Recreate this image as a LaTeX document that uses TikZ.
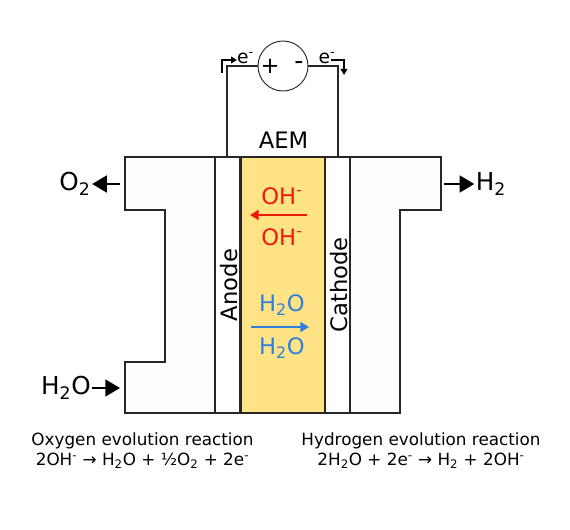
\documentclass[tikz,border=0pt]{standalone}
\usepackage{fontspec}
\usepackage{xcolor}
\usepackage{tikz}
\usetikzlibrary{arrows.meta}
\setmainfont{DejaVu Sans}
\definecolor{redColor}{HTML}{F01A0A}
\definecolor{blueColor}{HTML}{2F7FE0}
\definecolor{aemColor}{HTML}{FFE384}
\definecolor{blockColor}{HTML}{FDFDFD}
\tikzset{
    bigText/.style={font=\fontsize{17}{20}\selectfont, inner sep=0pt},
    gasText/.style={font=\fontsize{18.5}{22}\selectfont, inner sep=1pt},
    reactionText/.style={font=\fontsize{12.6}{15.3}\selectfont, align=center, inner sep=0pt},
    smallText/.style={font=\fontsize{14}{16}\selectfont, inner sep=0pt},
    wall/.style={draw=black!85, line width=0.9pt},
    gasArrow/.style={-{Triangle[length=11pt,width=12.5pt]}, line width=1.9pt, black},
    ionArrow/.style={-{Triangle[length=6.5pt,width=7.5pt]}, line width=1.5pt},
    electronArrow/.style={-{Triangle[length=4.5pt,width=5pt]}, line width=1.1pt}
}
\begin{document}
\begin{tikzpicture}[x=0.75pt, y=-0.75pt]
    \useasboundingbox (0,0) rectangle (570,530);
    \fill[white] (0,0) rectangle (570,530);
    % flow plates
    \draw[wall, fill=blockColor] (125,157) -- (215,157) -- (215,413) -- (125,413) -- (125,362) -- (165,362) -- (165,210) -- (125,210) -- cycle;
    \draw[wall, fill=blockColor] (350,157) -- (441,157) -- (441,210) -- (400,210) -- (400,413) -- (350,413) -- cycle;
    % electrodes and membrane
    \draw[wall, fill=white] (215,157) rectangle (240,413);
    \draw[wall, fill=white] (325,157) rectangle (350,413);
    \draw[black!85, line width=2pt, fill=aemColor] (241,157) rectangle (325,413);
    \node[rotate=90, bigText] (anode) at (229,285) {Anode};
    \node[rotate=90, bigText] (cathode) at (339,285) {Cathode};
    \node[bigText] (aem) at (283.5,140) {AEM};
    % circuit
    \node[circle, draw=black!85, line width=0.7pt, minimum size=50pt*0.75, inner sep=0pt] (source) at (283,66) {};
    \node[font=\fontsize{17}{20}\selectfont, inner sep=0pt] (plus) at (270,66) {+};
    \node[font=\fontsize{19}{20}\selectfont, inner sep=0pt] (minus) at (299,66) {-};
    \coordinate (anodeTop) at (227,157);
    \coordinate (cathodeTop) at (338,157);
    \draw[line width=1pt, black!85] (source.west) -| (anodeTop);
    \draw[line width=1pt, black!85] (source.east) -| (cathodeTop);
    \node[smallText] (eLeft) at (245.5,58) {e\textsuperscript{-}};
    \node[smallText] (eRight) at (327,58) {e\textsuperscript{-}};
    \coordinate (eLeftStart) at (222,73);
    \coordinate (eLeftEnd) at (237,60);
    \coordinate (eRightStart) at (331,60);
    \coordinate (eRightEnd) at (344,75);
    \draw[electronArrow] (eLeftStart) |- (eLeftEnd);
    \draw[electronArrow] (eRightStart) -| (eRightEnd);
    % gases
    \node[gasText] (oxygen) at (75,184) {O\textsubscript{2}};
    \node[gasText] (waterIn) at (66,388) {H\textsubscript{2}O};
    \node[gasText] (hydrogen) at (491,184) {H\textsubscript{2}};
    \coordinate (oxygenStart) at (120,184);
    \coordinate (waterEnd) at (120,388);
    \coordinate (hydrogenStart) at (444,184);
    \draw[gasArrow] (oxygenStart) -- (oxygen.east);
    \draw[gasArrow] (waterIn.east) -- (waterEnd);
    \draw[gasArrow] (hydrogenStart) -- (hydrogen.west);
    % ions
    \node[bigText, redColor] (ohTop) at (282,196) {OH\textsuperscript{-}};
    \node[bigText, redColor] (ohBottom) at (282,237) {OH\textsuperscript{-}};
    \node[bigText, blueColor] (waterTop) at (282,305) {H\textsubscript{2}O};
    \node[bigText, blueColor] (waterBottom) at (282,348) {H\textsubscript{2}O};
    \coordinate (redStart) at (307,215);
    \coordinate (redEnd) at (250,215);
    \coordinate (blueStart) at (251,327);
    \coordinate (blueEnd) at (309,327);
    \draw[ionArrow, redColor] (redStart) -- (redEnd);
    \draw[ionArrow, blueColor] (blueStart) -- (blueEnd);
    % reactions
    \node[reactionText] (oer) at (142.5,450.5) {Oxygen evolution reaction\\2OH\textsuperscript{-} → H\textsubscript{2}O + ½O\textsubscript{2} + 2e\textsuperscript{-}};
    \node[reactionText] (her) at (421,450.5) {Hydrogen evolution reaction\\2H\textsubscript{2}O + 2e\textsuperscript{-} → H\textsubscript{2} + 2OH\textsuperscript{-}};
\end{tikzpicture}
\end{document}
